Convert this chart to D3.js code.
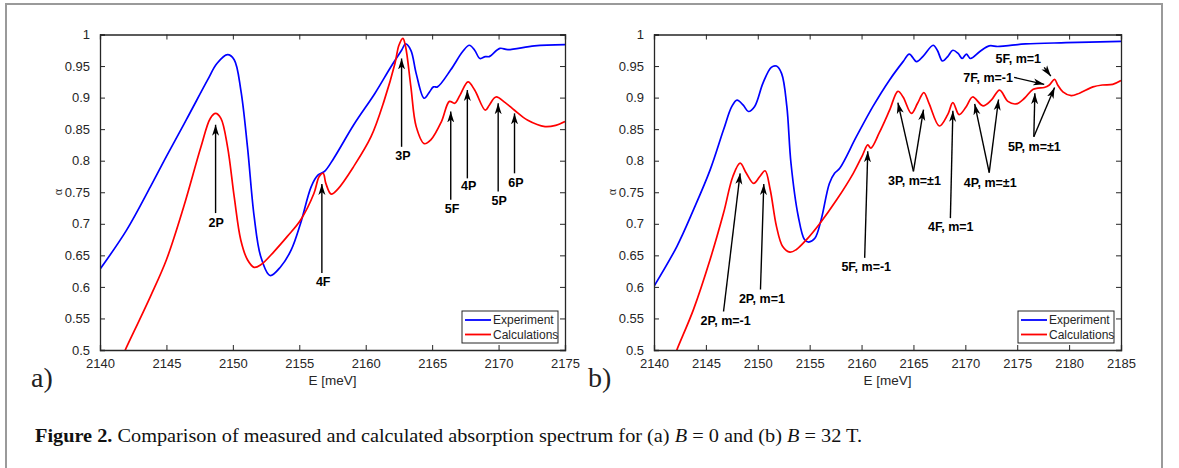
<!DOCTYPE html>
<html>
<head>
<meta charset="utf-8">
<script src="https://cdn.jsdelivr.net/npm/d3@7"></script>
<style>
	body { margin: 0; background: #fff; }
	svg text { font-family: "Liberation Sans", Arial, sans-serif; }
</style>
</head>
<body>
<svg id="fig" width="1179" height="468"></svg>
<script>
'use strict';

// ---- (a) B = 0 ----
var expA_E = [2140, 2142.0, 2143.8, 2145.0, 2146.5, 2148.1, 2148.8, 2149.6, 2150.1, 2150.6, 2151.1, 2151.6, 2152.1, 2152.8, 2153.6, 2154.4, 2155.1, 2155.9, 2156.4, 2156.9, 2157.6, 2159.1, 2160.7, 2161.9, 2162.7, 2163.0, 2163.4, 2163.8, 2164.4, 2164.8, 2165.1, 2165.4, 2166.4, 2167.3, 2167.8, 2168.2, 2168.6, 2169.0, 2169.3, 2170.1, 2170.7, 2172.7, 2175.0];
var expA_alpha = [0.628, 0.69, 0.759, 0.807, 0.865, 0.928, 0.954, 0.968, 0.96, 0.912, 0.822, 0.712, 0.648, 0.618, 0.632, 0.659, 0.701, 0.759, 0.777, 0.783, 0.804, 0.857, 0.907, 0.949, 0.975, 0.985, 0.975, 0.938, 0.899, 0.909, 0.917, 0.917, 0.944, 0.973, 0.983, 0.975, 0.962, 0.965, 0.965, 0.978, 0.976, 0.982, 0.984];

var calcA_E = [2141.6, 2141.9, 2143.8, 2145.0, 2146.3, 2147.6, 2148.3, 2148.7, 2149.1, 2149.6, 2150.1, 2150.6, 2151.1, 2151.6, 2152.1, 2153.1, 2154.1, 2155.1, 2156.1, 2156.5, 2156.8, 2157.0, 2157.4, 2157.9, 2159.1, 2160.4, 2161.4, 2162.2, 2162.5, 2162.8, 2163.0, 2163.4, 2163.8, 2164.4, 2164.9, 2165.7, 2166.3, 2166.7, 2167.1, 2167.7, 2168.2, 2169.0, 2169.3, 2169.8, 2170.5, 2171.2, 2172.2, 2173.5, 2174.3, 2175.0];
var calcA_alpha = [0.486, 0.5, 0.585, 0.643, 0.727, 0.822, 0.867, 0.875, 0.867, 0.822, 0.743, 0.674, 0.643, 0.631, 0.635, 0.656, 0.68, 0.706, 0.748, 0.775, 0.78, 0.764, 0.747, 0.755, 0.791, 0.838, 0.896, 0.954, 0.983, 0.994, 0.981, 0.917, 0.854, 0.827, 0.833, 0.862, 0.894, 0.891, 0.904, 0.925, 0.912, 0.88, 0.888, 0.901, 0.892, 0.88, 0.864, 0.854, 0.856, 0.862];

// labels: text, label E, label alpha (baseline), arrows [tailE, tailA, tipE, tipA]
var notesA = [
	{ text: '2P', E: 2148.75, a: 0.695, arrows: [[2148.7, 0.717, 2148.7, 0.857]] },
	{ text: '4F', E: 2156.8, a: 0.602, arrows: [[2156.7, 0.622, 2156.7, 0.763]] },
	{ text: '3P', E: 2162.8, a: 0.801, arrows: [[2162.7, 0.822, 2162.7, 0.962]] },
	{ text: '5F', E: 2166.5, a: 0.717, arrows: [[2166.4, 0.738, 2166.4, 0.878]] },
	{ text: '4P', E: 2167.75, a: 0.753, arrows: [[2167.65, 0.772, 2167.65, 0.912]] },
	{ text: '5P', E: 2170.05, a: 0.73, arrows: [[2169.97, 0.751, 2169.97, 0.891]] },
	{ text: '6P', E: 2171.3, a: 0.759, arrows: [[2171.2, 0.78, 2171.2, 0.875]] }
];

// ---- (b) B = 32 T ----
var expB_E = [2140, 2142.2, 2143.8, 2145.4, 2146.7, 2147.5, 2148.0, 2148.6, 2149.1, 2149.7, 2150.5, 2151.3, 2151.8, 2152.3, 2152.8, 2153.2, 2153.9, 2154.5, 2154.9, 2155.5, 2156.1, 2156.9, 2157.4, 2157.9, 2159.5, 2161.1, 2162.7, 2164.0, 2164.6, 2165.3, 2165.9, 2166.9, 2167.3, 2167.8, 2168.3, 2168.8, 2169.3, 2169.7, 2170.1, 2170.5, 2171.4, 2172.3, 2173.1, 2173.9, 2175.8, 2179.7, 2185];
var expB_alpha = [0.601, 0.664, 0.722, 0.785, 0.849, 0.886, 0.896, 0.888, 0.878, 0.886, 0.923, 0.948, 0.95, 0.938, 0.886, 0.796, 0.712, 0.675, 0.671, 0.677, 0.706, 0.764, 0.78, 0.788, 0.838, 0.886, 0.928, 0.957, 0.969, 0.957, 0.965, 0.983, 0.975, 0.958, 0.965, 0.975, 0.97, 0.962, 0.969, 0.962, 0.973, 0.982, 0.981, 0.982, 0.985, 0.987, 0.989];

var calcB_E = [2141.8, 2142.2, 2143.8, 2145.4, 2146.7, 2147.6, 2148.3, 2148.9, 2149.6, 2150.2, 2150.7, 2151.2, 2151.8, 2152.4, 2153.1, 2153.7, 2154.7, 2156.0, 2157.6, 2159.2, 2160.1, 2160.6, 2160.9, 2161.7, 2162.7, 2163.5, 2164.0, 2164.8, 2165.4, 2166.0, 2166.5, 2167.5, 2168.3, 2168.8, 2169.4, 2170.1, 2170.7, 2171.7, 2172.5, 2173.3, 2174.1, 2174.9, 2175.7, 2176.5, 2177.0, 2177.6, 2178.1, 2178.6, 2178.9, 2179.4, 2180.2, 2181.0, 2182.3, 2183.2, 2184.2, 2185.0];
var calcB_alpha = [0.482, 0.5, 0.564, 0.643, 0.717, 0.775, 0.796, 0.78, 0.764, 0.775, 0.784, 0.754, 0.696, 0.664, 0.655, 0.659, 0.675, 0.701, 0.738, 0.78, 0.809, 0.825, 0.82, 0.844, 0.88, 0.91, 0.901, 0.875, 0.891, 0.908, 0.891, 0.855, 0.873, 0.892, 0.873, 0.886, 0.901, 0.887, 0.896, 0.912, 0.894, 0.89, 0.899, 0.913, 0.915, 0.916, 0.92, 0.929, 0.92, 0.909, 0.903, 0.907, 0.917, 0.92, 0.921, 0.927];

var notesB = [
	{ text: '2P, m=-1', E: 2146.9, a: 0.54, arrows: [[2146.7, 0.561, 2148.3, 0.78]] },
	{ text: '2P, m=1', E: 2150.4, a: 0.575, arrows: [[2150.26, 0.596, 2150.58, 0.763]] },
	{ text: '5F, m=-1', E: 2160.45, a: 0.625, arrows: [[2160.3, 0.646, 2160.6, 0.815]] },
	{ text: '3P, m=\u00b11', E: 2165.1, a: 0.761, arrows: [[2165.0, 0.783, 2163.5, 0.892], [2165.0, 0.783, 2165.97, 0.881]] },
	{ text: '4F, m=1', E: 2168.6, a: 0.688, arrows: [[2168.56, 0.709, 2168.8, 0.879]] },
	{ text: '4P, m=\u00b11', E: 2172.4, a: 0.759, arrows: [[2172.3, 0.781, 2170.9, 0.89], [2172.3, 0.781, 2173.2, 0.897]] },
	{ text: '5P, m=\u00b11', E: 2176.65, a: 0.816, arrows: [[2176.6, 0.838, 2176.7, 0.907], [2176.6, 0.838, 2178.6, 0.916]] },
	{ text: '7F, m=-1', E: 2172.2, a: 0.925, arrows: [[2174.7, 0.932, 2177.6, 0.921]] },
	{ text: '5F, m=1', E: 2175.1, a: 0.955, arrows: [[2177.6, 0.948, 2178.24, 0.934]] }
];

var yTicks = [0.5, 0.55, 0.6, 0.65, 0.7, 0.75, 0.8, 0.85, 0.9, 0.95, 1];
var xTicksA = [2140, 2145, 2150, 2155, 2160, 2165, 2170, 2175];
var xTicksB = [2140, 2145, 2150, 2155, 2160, 2165, 2170, 2175, 2180, 2185];
var seriesNames = ['Experiment', 'Calculations'];
var seriesColors = ['#0000ff', '#ff0000'];

var svg = d3.select('#fig');
var axisColor = '#262626';

svg.append('rect').attr('width', 1179).attr('height', 468).attr('fill', '#fff');
svg.append('rect')
	.attr('x', 6).attr('y', 4).attr('width', 1156).attr('height', 520)
	.attr('fill', 'none').attr('stroke', '#9a9a9a').attr('stroke-width', 2);

var defs = svg.append('defs');
defs.append('marker')
	.attr('id', 'head')
	.attr('markerUnits', 'userSpaceOnUse')
	.attr('viewBox', '0 0 11 8')
	.attr('refX', 11).attr('refY', 4)
	.attr('markerWidth', 11).attr('markerHeight', 8)
	.attr('orient', 'auto')
	.append('path')
	.attr('d', 'M0,0.5 L11,4 L0,7.5 L3,4 Z')
	.attr('fill', '#000');

function drawPanel(opts) {
	var x = d3.scaleLinear().domain(opts.xDomain).range([opts.left, opts.right]);
	var y = d3.scaleLinear().domain([0.5, 1]).range([350, 34.5]);
	var g = svg.append('g');

	var clipId = 'clip-' + opts.tag;
	defs.append('clipPath').attr('id', clipId)
		.append('rect')
		.attr('x', opts.left).attr('y', 34.5)
		.attr('width', opts.right - opts.left).attr('height', 350 - 34.5);

	var line = d3.line()
		.x(function(d) { return x(d[0]); })
		.y(function(d) { return y(d[1]); })
		.curve(d3.curveCatmullRom.alpha(0.5));

	opts.series.forEach(function(s, i) {
		var pts = s.E.map(function(e, k) { return [e, s.alpha[k]]; });
		g.append('path')
			.datum(pts)
			.attr('clip-path', 'url(#' + clipId + ')')
			.attr('d', line)
			.attr('fill', 'none')
			.attr('stroke', seriesColors[i])
			.attr('stroke-width', 1.7)
			.attr('stroke-linejoin', 'round');
	});

	// axes: bottom/left with labels, top/right bare, ticks inward
	var fmt = function(v) { return String(+v.toFixed(2)); };
	var bottom = g.append('g').attr('transform', 'translate(0,350)')
		.call(d3.axisBottom(x).tickValues(opts.xTicks).tickSize(-5).tickPadding(9).tickFormat(d3.format('d')));
	var top = g.append('g').attr('transform', 'translate(0,34.5)')
		.call(d3.axisTop(x).tickValues(opts.xTicks).tickSize(-5).tickFormat(''));
	var leftAx = g.append('g').attr('transform', 'translate(' + opts.left + ',0)')
		.call(d3.axisLeft(y).tickValues(yTicks).tickSize(-5).tickPadding(10).tickFormat(fmt));
	var rightAx = g.append('g').attr('transform', 'translate(' + opts.right + ',0)')
		.call(d3.axisRight(y).tickValues(yTicks).tickSize(-5).tickFormat(''));

	[bottom, top, leftAx, rightAx].forEach(function(ax) {
		ax.select('.domain').attr('stroke', axisColor).attr('stroke-width', 1.3);
		ax.selectAll('.tick line').attr('stroke', axisColor).attr('stroke-width', 1);
		ax.selectAll('.tick text')
			.attr('fill', axisColor)
			.style('font-family', '"Liberation Sans", Arial, sans-serif')
			.style('font-size', '13px');
	});

	g.append('text')
		.attr('x', (opts.left + opts.right) / 2).attr('y', 385)
		.attr('text-anchor', 'middle')
		.attr('fill', axisColor)
		.style('font-size', '13.5px')
		.text('E [meV]');

	g.append('text')
		.attr('transform', 'translate(' + (opts.left - 38) + ',192) rotate(-90)')
		.attr('text-anchor', 'middle')
		.attr('fill', axisColor)
		.style('font-family', '"Liberation Serif", serif')
		.style('font-size', '12px')
		.text('\u03b1');

	g.append('text')
		.attr('x', opts.panelX).attr('y', 387)
		.style('font-family', '"Liberation Serif", "DejaVu Serif", serif')
		.style('font-size', '28px')
		.attr('fill', '#222')
		.text(opts.panelLabel);

	// annotations
	opts.notes.forEach(function(n) {
		n.arrows.forEach(function(a) {
			g.append('line')
				.attr('x1', x(a[0])).attr('y1', y(a[1]))
				.attr('x2', x(a[2])).attr('y2', y(a[3]))
				.attr('stroke', '#000').attr('stroke-width', 1.4)
				.attr('marker-end', 'url(#head)');
		});
		g.append('text')
			.attr('x', x(n.E)).attr('y', y(n.a))
			.attr('text-anchor', 'middle')
			.style('font-weight', 'bold')
			.style('font-size', '12.5px')
			.attr('fill', '#000')
			.text(n.text);
	});

	// legend
	var lg = g.append('g').attr('transform', 'translate(' + (opts.right - 103) + ',311)');
	lg.append('rect').attr('width', 96).attr('height', 32)
		.attr('fill', '#fff').attr('stroke', axisColor).attr('stroke-width', 1);
	seriesNames.forEach(function(name, i) {
		var yy = 9 + i * 14.5;
		lg.append('line').attr('x1', 3).attr('x2', 29).attr('y1', yy).attr('y2', yy)
			.attr('stroke', seriesColors[i]).attr('stroke-width', 1.8);
		lg.append('text').attr('x', 31).attr('y', yy + 4.3)
			.attr('fill', axisColor)
			.style('font-size', '12px')
			.text(name);
	});
}

drawPanel({
	tag: 'a', xDomain: [2140, 2175], left: 100, right: 565, xTicks: xTicksA,
	series: [{ E: expA_E, alpha: expA_alpha }, { E: calcA_E, alpha: calcA_alpha }],
	notes: notesA, panelLabel: 'a)', panelX: 31
});
drawPanel({
	tag: 'b', xDomain: [2140, 2185], left: 654, right: 1121, xTicks: xTicksB,
	series: [{ E: expB_E, alpha: expB_alpha }, { E: calcB_E, alpha: calcB_alpha }],
	notes: notesB, panelLabel: 'b)', panelX: 588
});

// caption
var cap = svg.append('text')
	.attr('x', 35).attr('y', 442)
	.attr('textLength', 827).attr('lengthAdjust', 'spacingAndGlyphs')
	.style('font-family', '"Liberation Serif", "DejaVu Serif", serif')
	.style('font-size', '18.5px')
	.attr('fill', '#111');
cap.append('tspan').style('font-weight', 'bold').text('Figure 2. ');
cap.append('tspan').text('Comparison of measured and calculated absorption spectrum for (a) ');
cap.append('tspan').style('font-style', 'italic').text('B');
cap.append('tspan').text(' = 0 and (b) ');
cap.append('tspan').style('font-style', 'italic').text('B');
cap.append('tspan').text(' = 32 T.');
</script>
</body>
</html>
